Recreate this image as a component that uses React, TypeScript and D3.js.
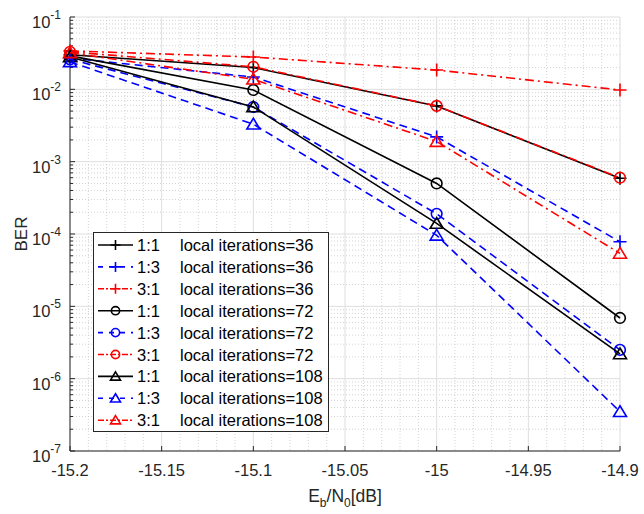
import React, { useEffect, useRef } from "react";
import * as d3 from "d3";

// Eb/N0 points (dB)
const snr = [-15.2, -15.1, -15.0, -14.9];

// BER per ratio / local iterations
const ber_11_36 = [0.030, 0.0200, 0.0059, 0.00059];
const ber_13_36 = [0.027, 0.0148, 0.0022, 0.000078];
const ber_31_36 = [0.034, 0.0280, 0.0185, 0.0098];
const ber_11_72 = [0.029, 0.0098, 0.00050, 0.0000069];
const ber_13_72 = [0.026, 0.0057, 0.00019, 0.0000025];
const ber_31_72 = [0.033, 0.0205, 0.0059, 0.00060];
const ber_11_108 = [0.028, 0.0057, 0.00014, 0.0000022];
const ber_13_108 = [0.024, 0.0033, 0.000096, 0.00000035];
const ber_31_108 = [0.032, 0.0138, 0.0019, 0.000054];

const xTicks = [-15.2, -15.15, -15.1, -15.05, -15, -14.95, -14.9];
const yExponents = [-1, -2, -3, -4, -5, -6, -7];

type Series = { ratio: string; iters: number; values: number[] };

const series: Series[] = [
    { ratio: "1:1", iters: 36, values: ber_11_36 },
    { ratio: "1:3", iters: 36, values: ber_13_36 },
    { ratio: "3:1", iters: 36, values: ber_31_36 },
    { ratio: "1:1", iters: 72, values: ber_11_72 },
    { ratio: "1:3", iters: 72, values: ber_13_72 },
    { ratio: "3:1", iters: 72, values: ber_31_72 },
    { ratio: "1:1", iters: 108, values: ber_11_108 },
    { ratio: "1:3", iters: 108, values: ber_13_108 },
    { ratio: "3:1", iters: 108, values: ber_31_108 },
];

const colorOf: Record<string, string> = { "1:1": "#000000", "1:3": "#0000ff", "3:1": "#ff0000" };
const dashOf: Record<string, string | null> = { "1:1": null, "1:3": "8,5", "3:1": "9,4,2,4" };
const markerOf: Record<number, string> = { 36: "plus", 72: "circle", 108: "triangle" };

function drawMarker(g: any, kind: string, x: number, y: number, color: string, s: number) {
    if (kind === "plus") {
        g.append("path")
            .attr("d", `M${x - s},${y}H${x + s}M${x},${y - s}V${y + s}`)
            .style("stroke", color).style("stroke-width", 1.6).style("fill", "none");
    } else if (kind === "circle") {
        g.append("circle")
            .attr("cx", x).attr("cy", y).attr("r", s * 0.82)
            .style("stroke", color).style("stroke-width", 1.6).style("fill", "none");
    } else {
        const h = s * 1.65;
        g.append("path")
            .attr("d", `M${x},${y - h * 0.55}L${x + s},${y + h * 0.45}L${x - s},${y + h * 0.45}Z`)
            .style("stroke", color).style("stroke-width", 1.6).style("fill", "none");
    }
}

export default function App() {
    const ref = useRef<SVGSVGElement>(null);

    useEffect(() => {
        const svg = d3.select(ref.current);
        svg.selectAll("*").remove();

        const left = 70, right = 620, top = 17, bottom = 451;
        const x = d3.scaleLinear().domain([-15.2, -14.9]).range([left, right]);
        const y = d3.scaleLog().domain([1e-7, 1e-1]).range([bottom, top]);

        svg.append("rect").attr("width", 644).attr("height", 514).style("fill", "#ffffff");

        const grid = svg.append("g");
        // minor grid (dotted)
        for (let e = -7; e < -1; e++) {
            for (let m = 2; m <= 9; m++) {
                const yy = y(m * Math.pow(10, e));
                grid.append("line").attr("x1", left).attr("x2", right).attr("y1", yy).attr("y2", yy)
                    .style("stroke", "#c8c8c8").style("stroke-width", 0.8).style("stroke-dasharray", "1,2");
            }
        }
        for (let i = 0; i <= 30; i++) {
            if (i % 5 === 0) continue;
            const xx = x(-15.2 + i * 0.01);
            grid.append("line").attr("x1", xx).attr("x2", xx).attr("y1", top).attr("y2", bottom)
                .style("stroke", "#c8c8c8").style("stroke-width", 0.8).style("stroke-dasharray", "1,2");
        }
        // major grid
        yExponents.forEach(e => {
            const yy = y(Math.pow(10, e));
            grid.append("line").attr("x1", left).attr("x2", right).attr("y1", yy).attr("y2", yy)
                .style("stroke", "#dedede").style("stroke-width", 1);
        });
        xTicks.forEach(t => {
            grid.append("line").attr("x1", x(t)).attr("x2", x(t)).attr("y1", top).attr("y2", bottom)
                .style("stroke", "#dedede").style("stroke-width", 1);
        });

        // axes
        const axis = svg.append("g").style("stroke", "#262626").style("stroke-width", 1);
        axis.append("line").attr("x1", left).attr("x2", left).attr("y1", top).attr("y2", bottom);
        axis.append("line").attr("x1", left).attr("x2", right).attr("y1", bottom).attr("y2", bottom);
        yExponents.forEach(e => {
            const yy = y(Math.pow(10, e));
            axis.append("line").attr("x1", left).attr("x2", left + 5).attr("y1", yy).attr("y2", yy);
        });
        for (let e = -7; e < -1; e++) {
            for (let m = 2; m <= 9; m++) {
                const yy = y(m * Math.pow(10, e));
                axis.append("line").attr("x1", left).attr("x2", left + 3).attr("y1", yy).attr("y2", yy);
            }
        }
        xTicks.forEach(t => {
            axis.append("line").attr("x1", x(t)).attr("x2", x(t)).attr("y1", bottom).attr("y2", bottom - 5);
        });

        const font = "Liberation Sans, Arial, sans-serif";
        yExponents.forEach(e => {
            const t = svg.append("text")
                .attr("x", 61).attr("y", y(Math.pow(10, e)) + 11)
                .attr("text-anchor", "end")
                .style("font-family", font).style("font-size", "16.5px").style("fill", "#262626")
                .text("10");
            t.append("tspan").attr("dy", -9).style("font-size", "12px").text(String(e));
        });
        xTicks.forEach(t => {
            svg.append("text")
                .attr("x", x(t)).attr("y", 476)
                .attr("text-anchor", "middle")
                .style("font-family", font).style("font-size", "16.5px").style("fill", "#262626")
                .text(String(t));
        });

        const xl = svg.append("text").attr("x", 345).attr("y", 502).attr("text-anchor", "middle")
            .style("font-family", font).style("font-size", "17.5px").style("fill", "#262626");
        xl.append("tspan").text("E");
        xl.append("tspan").attr("dy", 5).style("font-size", "12px").text("b");
        xl.append("tspan").attr("dy", -5).text("/N");
        xl.append("tspan").attr("dy", 5).style("font-size", "12px").text("0");
        xl.append("tspan").attr("dy", -5).text("[dB]");

        svg.append("text")
            .attr("transform", "translate(27,234) rotate(-90)")
            .attr("text-anchor", "middle")
            .style("font-family", font).style("font-size", "17px").style("fill", "#262626")
            .text("BER");

        // data
        const line = d3.line<number>().x((d, i) => x(snr[i])).y(d => y(d));
        const plot = svg.append("g");
        series.forEach(s => {
            const p = plot.append("path")
                .attr("d", line(s.values))
                .style("fill", "none")
                .style("stroke", colorOf[s.ratio])
                .style("stroke-width", 1.6);
            if (dashOf[s.ratio]) p.style("stroke-dasharray", dashOf[s.ratio]);
            s.values.forEach((v, i) => drawMarker(plot, markerOf[s.iters], x(snr[i]), y(v), colorOf[s.ratio], 6.5));
        });

        // legend
        const lg = svg.append("g");
        lg.append("rect").attr("x", 93.5).attr("y", 232.5).attr("width", 235).attr("height", 199)
            .style("fill", "#ffffff").style("stroke", "#262626").style("stroke-width", 1);
        series.forEach((s, i) => {
            const yy = 245 + i * 21.9;
            const l = lg.append("line").attr("x1", 98).attr("x2", 133).attr("y1", yy).attr("y2", yy)
                .style("stroke", colorOf[s.ratio]).style("stroke-width", 1.6);
            if (dashOf[s.ratio]) l.style("stroke-dasharray", s.ratio === "1:3" ? "5,6" : "6,2,2,2");
            drawMarker(lg, markerOf[s.iters], 115.5, yy, colorOf[s.ratio], 5);
            lg.append("text").attr("x", 137).attr("y", yy + 6)
                .style("font-family", font).style("font-size", "16.5px").style("fill", "#000")
                .text(s.ratio);
            lg.append("text").attr("x", 180).attr("y", yy + 6)
                .style("font-family", font).style("font-size", "16.5px").style("fill", "#000")
                .text("local iterations=" + s.iters);
        });
    }, []);

    return (
        <svg ref={ref} width={644} height={514} style={{ position: "absolute", left: 0, top: 0 }}></svg>
    );
}
